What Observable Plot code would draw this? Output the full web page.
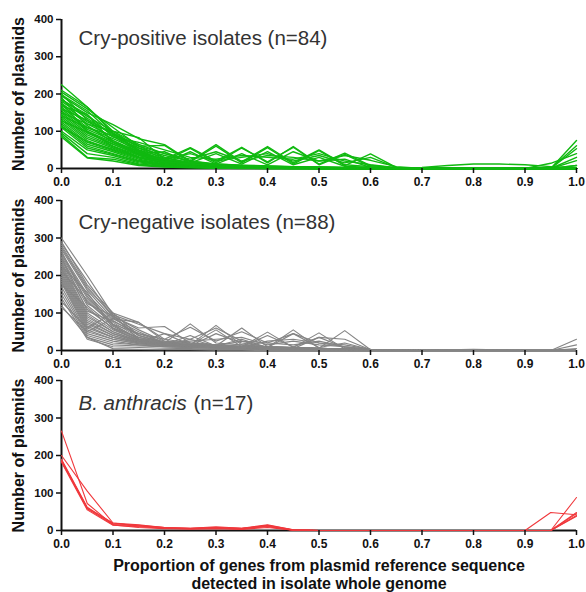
<!DOCTYPE html>
<html>
<head>
<meta charset="utf-8">
<script src="https://cdn.jsdelivr.net/npm/d3@7"></script>
<script src="https://cdn.jsdelivr.net/npm/@observablehq/plot@0.6"></script>
<style>
  html, body { margin: 0; padding: 0; background: #ffffff; }
  #chart { width: 586px; }
  #chart svg { display: block; overflow: visible; background: transparent; }
</style>
</head>
<body>
<div id="chart"></div>
<script>
// Proportion of genes detected (x positions of the profile points)
const xs = [0, 0.05, 0.1, 0.15, 0.2, 0.25, 0.3, 0.35, 0.4, 0.45, 0.5, 0.55, 0.6, 0.65, 0.7, 0.75, 0.8, 0.85, 0.9, 0.95, 1.0];
const xTicks = [0, 0.1, 0.2, 0.3, 0.4, 0.5, 0.6, 0.7, 0.8, 0.9, 1.0];
const yTicks = [0, 100, 200, 300, 400];

const titlePositive = "Cry-positive isolates (n=84)";
const titleNegative = "Cry-negative isolates (n=88)";
const titleAnthracisItalic = "B. anthracis";
const titleAnthracisCount = "(n=17)";
const yLabel = "Number of plasmids";
const xLabel = "Proportion of genes from plasmid reference sequence\ndetected in isolate whole genome";

// Cry-positive isolates (a representative set of the 84 profiles)
const cryPositive = [
  [225,165,95,45,20,10,6,4,3,2,1,1,0,0,0,0,0,0,0,0,0],
  [205,160,110,60,30,15,8,5,3,2,2,1,0,0,0,0,0,0,0,0,8],
  [195,150,118,80,64,20,64,18,59,15,50,10,5,2,0,0,0,0,0,0,0],
  [185,140,100,83,25,56,20,57,15,59,12,41,8,2,0,0,0,0,0,0,0],
  [180,135,90,60,62,18,60,15,56,12,48,8,39,3,0,0,0,0,0,0,0],
  [175,125,95,50,20,54,15,55,18,57,10,38,5,0,0,0,0,0,0,0,75],
  [170,120,85,55,35,20,10,6,4,3,2,1,1,0,0,0,0,0,0,0,0],
  [165,110,80,50,30,15,8,5,4,3,2,1,1,0,0,0,0,0,0,0,61],
  [160,105,75,45,25,12,8,5,3,2,1,1,0,0,0,0,0,0,0,0,0],
  [155,100,70,40,22,12,6,4,3,2,1,0,0,0,0,0,0,0,0,0,0],
  [150,95,65,38,20,10,6,4,2,2,1,0,0,0,0,0,0,0,0,0,53],
  [145,90,60,35,18,10,5,3,2,1,1,0,0,0,0,0,0,0,0,0,0],
  [140,85,58,32,16,9,5,3,2,1,1,0,0,0,0,0,0,0,0,0,0],
  [135,80,55,30,15,8,4,3,2,1,0,0,0,0,0,0,0,0,0,0,30],
  [130,75,50,28,14,8,4,2,2,1,0,0,0,0,0,0,0,0,0,0,0],
  [125,70,48,25,12,6,3,2,1,1,0,0,0,0,0,0,0,0,0,0,0],
  [120,65,45,22,10,6,3,2,1,1,0,0,0,0,0,0,0,0,0,0,21],
  [115,60,40,20,10,5,3,2,1,0,0,0,0,0,0,0,0,0,0,0,0],
  [110,55,38,18,8,5,2,1,1,0,0,0,0,0,0,0,0,0,0,0,0],
  [100,50,35,15,8,4,2,1,1,0,0,0,0,0,0,0,0,0,0,0,8],
  [95,40,30,12,6,3,2,1,0,0,0,0,0,0,0,0,0,0,0,0,0],
  [90,30,25,10,5,3,1,1,0,0,0,0,0,0,0,0,0,0,0,0,0],
  [85,28,20,8,4,2,1,0,0,0,0,0,0,0,0,0,0,0,0,0,0],
  [200,130,75,40,45,15,40,12,45,10,30,6,3,0,0,0,0,0,0,0,0],
  [190,115,70,45,15,45,12,40,10,45,20,25,3,0,0,0,0,0,0,0,0],
  [150,120,100,65,40,20,12,8,6,4,3,2,1,2,3,8,12,12,10,5,0],
  [185,145,85,70,50,30,25,35,30,25,40,20,10,2,0,0,0,0,0,0,0],
  [160,130,95,60,40,25,45,20,35,30,20,35,22,5,0,0,0,0,0,0,0],
  [210,165,100,55,25,40,20,30,40,20,35,15,30,3,0,0,0,0,0,0,0],
  [175,100,60,30,20,12,10,8,6,5,4,3,2,1,0,0,0,0,0,14,40],
  [198,155,92,48,22,14,10,7,5,4,3,2,1,0,0,0,0,0,0,0,0],
  [168,145,70,38,18,10,7,5,4,3,2,1,1,0,0,0,0,0,0,0,0],
  [142,110,88,42,20,12,8,6,4,3,2,1,0,0,0,0,0,0,0,0,0],
  [128,98,66,36,24,16,12,9,7,5,4,3,2,1,0,0,0,0,0,0,0],
  [112,72,52,30,18,12,9,7,5,4,3,2,1,0,0,0,0,0,0,0,0]
];

// Cry-negative isolates (a representative set of the 88 profiles)
const cryNegative = [
  [300,200,95,30,20,15,12,10,8,6,5,3,2,1,0,0,0,0,0,0,0],
  [290,175,100,75,25,20,15,12,10,8,6,4,2,1,0,0,0,0,0,0,0],
  [280,170,90,60,64,20,15,10,8,6,5,3,2,1,0,0,0,0,0,0,0],
  [270,160,85,50,20,71,20,15,10,8,6,4,2,1,0,0,0,0,0,0,0],
  [260,150,80,40,20,15,67,15,10,8,6,4,2,1,0,0,0,0,0,0,0],
  [250,140,75,35,20,15,12,60,10,8,6,4,2,1,0,0,0,0,0,0,0],
  [245,130,70,30,18,15,12,10,49,8,47,4,2,1,0,0,0,0,0,0,0],
  [240,120,65,30,18,14,12,10,8,55,6,53,2,1,0,0,0,0,0,0,0],
  [235,110,60,28,16,14,10,8,6,5,4,3,2,1,0,0,0,0,0,0,30],
  [230,100,55,28,16,12,10,8,6,5,4,3,2,1,0,0,0,0,0,0,15],
  [225,95,50,25,15,12,10,8,6,4,3,2,1,0,0,0,0,0,0,0,5],
  [220,90,50,25,15,12,45,20,10,8,6,4,2,1,0,0,0,0,0,0,0],
  [215,85,45,25,15,40,12,30,8,6,4,2,1,0,0,0,0,0,0,0,0],
  [210,80,45,22,45,15,55,10,40,10,35,8,2,1,0,0,0,0,0,0,0],
  [205,75,40,22,15,30,12,25,8,45,8,20,2,1,0,0,0,0,0,0,0],
  [200,70,40,20,15,12,10,8,25,30,20,10,2,1,0,0,0,0,0,0,0],
  [195,65,35,20,14,12,10,8,6,5,35,30,2,1,0,0,0,0,0,0,0],
  [190,60,35,20,14,12,10,8,6,5,4,3,2,1,0,0,0,0,0,0,0],
  [185,55,30,18,12,10,8,6,5,4,3,2,1,0,0,0,0,0,0,0,0],
  [180,50,30,18,12,10,8,6,5,4,3,2,1,0,0,2,3,2,0,0,0],
  [170,45,25,15,10,8,6,5,4,3,2,1,1,0,0,0,0,0,0,0,0],
  [160,40,20,15,10,8,6,5,4,3,2,1,0,0,0,0,0,0,0,0,0],
  [150,35,15,12,10,8,6,5,4,3,2,1,0,0,0,0,0,0,0,0,0],
  [140,30,10,8,6,5,4,3,2,1,1,0,0,0,0,0,0,0,0,0,0],
  [130,60,100,40,20,15,12,10,8,6,4,3,2,1,0,0,0,0,0,0,0],
  [120,35,5,3,2,2,1,1,0,0,0,0,0,0,0,0,0,0,0,0,0],
  [115,50,85,75,30,20,15,10,8,6,4,2,1,0,0,0,0,0,0,0,0],
  [275,165,95,70,45,30,60,25,20,15,25,10,3,1,0,0,0,0,0,0,0],
  [255,145,70,45,30,62,25,50,20,45,20,15,3,1,0,0,0,0,0,0,0],
  [225,155,60,35,20,25,30,35,15,25,15,10,2,1,0,2,2,1,0,0,0],
  [285,185,88,40,22,16,12,9,7,5,4,3,2,1,0,0,0,0,0,0,0],
  [265,125,92,55,24,18,14,11,9,7,5,3,2,1,0,0,0,0,0,0,0],
  [248,105,78,45,22,16,13,10,8,6,5,3,2,1,0,0,0,0,0,0,0],
  [212,135,68,32,18,14,11,9,7,5,4,3,2,1,0,0,0,0,0,0,0],
  [175,115,58,26,16,12,10,8,6,4,3,2,1,0,0,0,0,0,0,0,0]
];

// B. anthracis isolates (17 profiles, most overlapping)
const anthracis = [
  [265,72,15,8,5,4,5,3,8,1,0,0,0,0,0,0,0,0,0,0,88],
  [200,105,20,12,8,5,8,5,14,2,0,0,0,0,0,0,0,0,0,48,42],
  [190,62,18,14,8,6,8,6,12,1,0,0,0,0,0,0,0,0,0,0,48],
  [185,58,16,12,6,5,6,5,10,1,0,0,0,0,0,0,0,0,0,0,38],
  [182,55,14,10,6,4,6,4,12,1,0,0,0,0,0,0,0,0,0,0,40],
  [188,60,20,15,8,6,10,6,15,2,0,0,0,0,0,0,0,0,0,0,45]
];

const colors = { positive: "#10b910", negative: "#858585", anthracis: "#f0383c" };

function toRows(series) {
  return series.flatMap((vals, id) => vals.map((v, j) => ({ x: xs[j], y: v, id })));
}

function panel({ series, color, lineWidth, height, marginTop, marginBottom, titleMarks, extraMarks = [] }) {
  return Plot.plot({
    width: 586,
    height,
    marginLeft: 61,
    marginRight: 10,
    marginTop,
    marginBottom,
    style: { fontFamily: "'Liberation Sans', Arial, sans-serif", background: "transparent", overflow: "visible", color: "#111" },
    x: { domain: [0, 1] },
    y: { domain: [0, 400] },
    marks: [
      Plot.ruleX([0], { stroke: "#111", strokeWidth: 2 }),
      Plot.ruleY([0], { stroke: "#111", strokeWidth: 2 }),
      Plot.lineY(toRows(series), { x: "x", y: "y", z: "id", stroke: color, strokeWidth: lineWidth }),
      Plot.axisX({ ticks: xTicks, tickFormat: d3.format(".1f"), tickSize: 5, tickPadding: 4, fontSize: 12, fontWeight: "bold", strokeWidth: 1.5, label: null }),
      Plot.axisY({ ticks: yTicks, tickSize: 5, tickPadding: 3, fontSize: 11.5, fontWeight: "bold", strokeWidth: 1.5, label: null }),
      Plot.text([yLabel], { text: d => d, frameAnchor: "left", textAnchor: "middle", lineAnchor: "middle", dx: -43, rotate: -90, fontSize: 16, fontWeight: "bold", fill: "#111" }),
      ...titleMarks,
      ...extraMarks
    ]
  });
}

const titleStyle = { text: d => d, frameAnchor: "top-left", textAnchor: "start", lineAnchor: "bottom", fontSize: 20.5, fill: "#333" };

const p1 = panel({
  series: cryPositive, color: colors.positive, lineWidth: 1.4, height: 190, marginTop: 19, marginBottom: 22,
  titleMarks: [Plot.text([titlePositive], { ...titleStyle, dx: 17, dy: 25 })]
});
const p2 = panel({
  series: cryNegative, color: colors.negative, lineWidth: 1.15, height: 180, marginTop: 10, marginBottom: 20,
  titleMarks: [Plot.text([titleNegative], { ...titleStyle, dx: 17, dy: 28.5 })]
});
const p3 = panel({
  series: anthracis, color: colors.anthracis, lineWidth: 1.1, height: 222, marginTop: 10, marginBottom: 62,
  titleMarks: [
    Plot.text([titleAnthracisItalic], { ...titleStyle, dx: 17, dy: 29, fontStyle: "italic" }),
    Plot.text([titleAnthracisCount], { ...titleStyle, dx: 132, dy: 29 })
  ],
  extraMarks: [
    Plot.text([xLabel], { text: d => d, frameAnchor: "bottom", lineAnchor: "top", dy: 28, lineHeight: 1.1, fontSize: 16, fontWeight: "bold", fill: "#111" })
  ]
});

const root = document.getElementById("chart");
root.append(p1, p2, p3);
</script>
</body>
</html>
